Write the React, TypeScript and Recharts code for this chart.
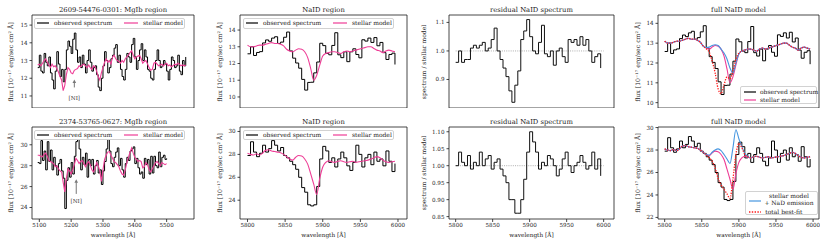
import type { ReactNode, CSSProperties } from "react"
import { LineChart, Line, XAxis, YAxis, ReferenceArea, ReferenceLine, ReferenceDot } from "recharts"

const FONT = "'DejaVu Serif', serif"
const INK = "#1a1a1a"
const PINK = "#ee3d96"
const BLUE = "#4696e0"
const RED = "#ff1a1a"

// ---- MgIb region (both rows share the wavelength grid, row 2 stops at 5500) ----
const MGB_WL = [
  5095, 5100, 5105, 5110, 5115, 5120, 5125, 5130, 5135, 5140,
  5145, 5150, 5155, 5160, 5165, 5170, 5175, 5180, 5185, 5190,
  5195, 5200, 5205, 5210, 5215, 5220, 5225, 5230, 5235, 5240,
  5245, 5250, 5255, 5260, 5265, 5270, 5275, 5280, 5285, 5290,
  5295, 5300, 5305, 5310, 5315, 5320, 5325, 5330, 5335, 5340,
  5345, 5350, 5355, 5360, 5365, 5370, 5375, 5380, 5385, 5390,
  5395, 5400, 5405, 5410, 5415, 5420, 5425, 5430, 5435, 5440,
  5445, 5450, 5455, 5460, 5465, 5470, 5475, 5480, 5485, 5490,
  5495, 5500, 5505, 5510, 5515, 5520, 5525, 5530, 5535, 5540,
  5545, 5550, 5555, 5560,
]
const MGB1_OBS = [
  12.6, 13.3, 12.4, 12.3, 13.4, 12.9, 12.7, 13.2, 12.3, 11.9,
  11.4, 12.4, 13.5, 12.8, 12.1, 12.5, 11.8, 12.5, 13.6, 14.1,
  13.8, 13.4, 14.2, 14.55, 13.6, 12.9, 13.2, 12.6, 13.3, 12.8,
  12.3, 13.0, 13.6, 12.9, 12.4, 12.6, 12.7, 12.2, 11.5, 11.3,
  12.0, 12.7, 13.5, 13.0, 12.3, 12.6, 13.1, 13.3, 13.7, 13.9,
  12.9, 13.3, 12.5, 12.1, 11.9, 12.5, 13.4, 13.2, 12.9, 13.9,
  14.25, 13.2, 12.5, 13.0, 13.6, 13.95, 13.0, 13.6, 13.2, 12.5,
  12.4, 12.0, 11.9, 12.5, 13.0, 13.6, 13.0, 12.6, 12.7, 13.0,
  12.8, 12.4, 11.9, 12.5, 13.2, 13.0, 12.6, 12.7, 13.3, 12.4,
  12.2, 13.0, 12.7, 13.2,
]
const MGB1_MODEL = [
  12.75, 12.8, 12.7, 12.85, 13.0, 13.1, 12.9, 12.75, 12.6, 12.8,
  12.65, 12.7, 12.55, 12.35, 12.1, 11.9, 11.3, 11.6, 12.2, 12.6,
  12.5, 12.3, 12.25, 12.45, 12.5, 12.55, 12.7, 12.65, 12.75, 12.8,
  12.7, 12.6, 12.75, 12.6, 12.5, 12.7, 12.65, 12.4, 12.1, 11.9,
  12.3, 12.6, 12.9, 13.1, 12.9, 13.0, 12.8, 13.2, 13.3, 13.1,
  13.0, 12.95, 12.85, 13.0, 12.9, 13.1, 13.2, 13.3, 13.45, 13.55,
  13.3, 13.1, 13.2, 13.25, 13.3, 13.1, 12.85, 12.95, 13.0, 12.8,
  12.6, 12.45, 12.5, 12.85, 12.9, 12.8, 12.7, 12.75, 12.8, 12.7,
  12.8, 12.85, 12.7, 12.75, 12.65, 12.7, 12.8, 12.75, 12.85, 12.8,
  12.7, 12.75, 12.7, 12.75,
]
const MGB2_OBS = [
  28.3, 28.2, 30.4, 28.5, 29.4, 27.6, 30.3, 28.4, 29.5, 27.6,
  28.8, 28.0, 27.1, 28.2, 28.6, 27.5, 26.8, 23.9, 26.6, 27.8,
  26.9, 28.3, 27.2, 28.9, 30.3, 30.5, 29.6, 27.6, 28.8, 28.1,
  29.2, 26.9, 28.6, 28.0, 28.6, 27.2, 28.0, 28.5, 27.3, 27.6,
  26.2, 27.5, 28.4, 29.6, 30.5, 29.4, 28.2, 27.9, 28.8, 29.3,
  29.7, 28.0, 28.7, 27.6, 26.9, 28.2, 28.8, 28.5, 29.4, 29.6,
  29.8, 28.2, 28.7, 27.8, 27.2, 27.4, 26.8, 28.7, 28.1, 28.6,
  27.2, 28.9, 27.3, 28.9, 28.0, 27.8, 29.3, 27.9, 28.8, 29.0,
  28.6, 28.7,
]
const MGB2_MODEL = [
  29.0, 29.0, 28.9, 28.85, 29.1, 29.2, 28.9, 28.5, 28.4, 28.3,
  28.2, 27.9, 28.0, 27.7, 27.5, 27.4, 26.4, 25.5, 26.8, 27.7,
  27.5, 27.2, 27.6, 28.1, 28.7, 28.5, 28.2, 28.4, 28.5, 28.2,
  27.9, 28.2, 28.4, 28.1, 27.6, 27.4, 27.7, 28.3, 28.0, 27.5,
  26.5, 27.6, 28.6, 29.0, 29.3, 29.35, 29.0, 28.7, 28.4, 28.3,
  28.1, 27.9, 27.5, 27.2, 27.1, 27.6, 28.3, 28.8, 29.3, 29.7,
  29.2, 28.8, 28.6, 28.4, 28.5, 28.4, 27.8, 27.9, 28.3, 28.1,
  27.6, 27.4, 27.7, 28.0, 28.3, 28.4, 28.2, 28.0, 28.3, 28.2,
  28.1, 28.2,
]

// ---- NaID region ----
const NAD_WL = [
  5800, 5804, 5808, 5812, 5816, 5820, 5824, 5828, 5832, 5836,
  5840, 5844, 5848, 5852, 5856, 5860, 5864, 5868, 5872, 5876,
  5880, 5884, 5888, 5892, 5896, 5900, 5904, 5908, 5912, 5916,
  5920, 5924, 5928, 5932, 5936, 5940, 5944, 5948, 5952, 5956,
  5960, 5964, 5968, 5972, 5976, 5980, 5984, 5988, 5992, 5996,
]
const NAD1_OBS = [
  12.58, 13.0, 12.48, 12.66, 12.71, 13.23, 13.41, 13.33, 13.52, 13.6,
  13.2, 13.28, 13.57, 13.88, 12.75, 12.32, 12.03, 11.72, 11.05, 10.41,
  10.87, 10.88, 11.44, 12.09, 13.21, 13.07, 12.6, 12.52, 13.08, 13.84,
  12.52, 12.35, 12.7, 12.11, 12.7, 12.88, 12.54, 12.34, 13.42, 13.34,
  13.52, 13.26, 13.55, 13.06, 13.26, 12.65, 12.24, 12.54, 12.62, 11.94,
]
const NAD1_MODEL = [
  13.1, 13.0, 13.0, 13.05, 13.1, 13.1, 13.15, 13.2, 13.25, 13.2,
  13.2, 13.15, 13.05, 12.85, 12.75, 12.7, 12.8, 12.88, 12.85, 12.7,
  12.35, 11.7, 11.0, 11.3, 11.9, 12.45, 12.6, 12.65, 12.7, 12.7,
  12.65, 12.6, 12.7, 12.75, 12.7, 12.75, 12.8, 12.85, 12.9, 12.95,
  13.0, 13.0, 12.9, 12.8, 12.75, 12.65, 12.75, 12.8, 12.75, 12.7,
]
const NAD1_EMIS = [
  13.1, 13.0, 13.0, 13.05, 13.1, 13.1, 13.15, 13.2, 13.25, 13.2,
  13.2, 13.15, 13.05, 12.85, 12.78, 12.8, 12.88, 12.92, 12.88, 12.7,
  12.5, 12.2, 11.75, 11.5, 12.0, 12.45, 12.6, 12.65, 12.7, 12.7,
  12.65, 12.6, 12.7, 12.75, 12.7, 12.75, 12.8, 12.85, 12.9, 12.95,
  13.0, 13.0, 12.9, 12.8, 12.75, 12.65, 12.75, 12.8, 12.75, 12.7,
]
const NAD1_FIT = [
  13.1, 13.0, 13.0, 13.05, 13.1, 13.1, 13.15, 13.2, 13.25, 13.2,
  13.2, 13.15, 13.05, 12.85, 12.72, 12.55, 12.1, 11.5, 10.7, 10.45,
  10.9, 11.3, 11.2, 11.6, 12.2, 12.5, 12.6, 12.65, 12.7, 12.7,
  12.65, 12.6, 12.7, 12.75, 12.7, 12.75, 12.8, 12.85, 12.9, 12.95,
  13.0, 13.0, 12.9, 12.8, 12.75, 12.65, 12.75, 12.8, 12.75, 12.7,
]
const NAD1_RES = [
  0.96, 1.0, 0.96, 0.97, 0.97, 1.01, 1.02, 1.01, 1.02, 1.03,
  1.0, 1.01, 1.04, 1.08, 1.0, 0.97, 0.94, 0.91, 0.86, 0.82,
  0.88, 0.93, 1.04, 1.07, 1.11, 1.05, 1.0, 0.99, 1.03, 1.09,
  0.99, 0.98, 1.0, 0.95, 1.0, 1.01, 0.98, 0.96, 1.04, 1.03,
  1.04, 1.02, 1.05, 1.02, 1.04, 1.0, 0.96, 0.98, 0.99, 0.94,
]
const NAD2_OBS = [
  27.9, 29.1, 28.2, 27.8, 28.1, 28.8, 28.2, 28.5, 29.2, 28.8,
  28.3, 28.6, 27.9, 27.7, 27.4, 27.1, 26.7, 26.0, 25.1, 24.7,
  23.6, 23.5, 23.6, 25.2, 27.6, 28.7, 28.3, 27.3, 27.7, 26.9,
  27.6, 28.2, 27.7, 27.0, 26.6, 27.3, 28.8, 28.0, 26.9, 27.7,
  28.0, 27.1, 28.2, 27.4, 27.6, 27.0, 28.3, 27.4, 26.5, 27.2,
]
const NAD2_MODEL = [
  28.1, 28.0, 27.95, 28.05, 27.95, 28.1, 28.35, 28.4, 28.3, 28.25,
  28.2, 28.15, 28.0, 27.8, 27.6, 27.5, 27.75, 27.9, 27.85, 27.6,
  27.15, 26.3, 25.4, 24.5, 25.9, 26.9, 27.3, 27.45, 27.35, 27.3,
  27.4, 27.45, 27.35, 27.3, 27.35, 27.4, 27.3, 27.35, 27.4, 27.45,
  27.5, 27.6, 27.7, 27.8, 27.7, 27.5, 27.35, 27.3, 27.35, 27.4,
]
const NAD2_EMIS = [
  28.1, 28.0, 27.95, 28.05, 27.95, 28.1, 28.35, 28.4, 28.3, 28.25,
  28.2, 28.15, 28.0, 27.8, 27.6, 27.55, 27.8, 28.0, 28.1, 27.95,
  27.6, 27.2, 26.8, 28.2, 29.8, 29.0, 28.3, 27.7, 27.45, 27.3,
  27.4, 27.45, 27.35, 27.3, 27.35, 27.4, 27.3, 27.35, 27.4, 27.45,
  27.5, 27.6, 27.7, 27.8, 27.7, 27.5, 27.35, 27.3, 27.35, 27.4,
]
const NAD2_FIT = [
  28.1, 28.0, 27.95, 28.05, 27.95, 28.1, 28.35, 28.4, 28.3, 28.25,
  28.2, 28.15, 28.0, 27.8, 27.55, 27.3, 27.0, 26.4, 25.5, 24.9,
  24.5, 24.1, 23.7, 25.4, 27.6, 28.6, 28.2, 27.6, 27.4, 27.3,
  27.4, 27.45, 27.35, 27.3, 27.35, 27.4, 27.3, 27.35, 27.4, 27.45,
  27.5, 27.6, 27.7, 27.8, 27.7, 27.5, 27.35, 27.3, 27.35, 27.4,
]
const NAD2_RES = [
  1.0, 1.04, 1.01, 1.0, 1.03, 0.99, 1.01, 1.0, 1.04, 1.0,
  1.02, 1.03, 0.99, 1.01, 1.02, 0.99, 0.97, 0.95, 0.9, 0.9,
  0.86, 0.86, 0.9, 0.96, 1.04, 1.1, 1.07, 1.04, 0.99, 1.01,
  1.0, 1.03, 1.02, 1.0, 0.97, 0.99, 1.02, 1.04, 1.0, 0.98,
  1.0, 1.01, 1.03, 1.01, 0.99, 1.0, 1.04, 0.99, 1.02, 0.97,
]

const TITLES = [
  ["2609-54476-0301: MgIb region", "NaID region", "residual NaID spectrum", "full NaID model"],
  ["2374-53765-0627: MgIb region", "NaID region", "residual NaID spectrum", "full NaID model"],
]
const FLUX_LABEL = "flux [10⁻¹⁷ erg/sec cm² Å]"
const RES_LABEL = "spectrum / stellar model"
const MGB_XTICKS = [5100, 5200, 5300, 5400, 5500]
const NAD_XTICKS = [5800, 5850, 5900, 5950, 6000]

const mgb1 = MGB_WL.map((wl, i) => ({ wl, obs: MGB1_OBS[i], model: MGB1_MODEL[i] }))
const mgb2 = MGB_WL.map((wl, i) => ({ wl, obs: MGB2_OBS[i], model: MGB2_MODEL[i] }))
const nad1 = NAD_WL.map((wl, i) => ({ wl, obs: NAD1_OBS[i], model: NAD1_MODEL[i], emis: NAD1_EMIS[i], fit: NAD1_FIT[i], res: NAD1_RES[i] }))
const nad2 = NAD_WL.map((wl, i) => ({ wl, obs: NAD2_OBS[i], model: NAD2_MODEL[i], emis: NAD2_EMIS[i], fit: NAD2_FIT[i], res: NAD2_RES[i] }))

// plot-area geometry
const COL_X = [32, 240, 449, 658]
const COL_W = [162, 167, 165, 161]
const ROW_Y = [15, 127]
const ROW_H = [93, 92]
const X_DOM: [number, number][] = [[5077, 5586], [5790, 6012], [5791, 6014], [5791, 6008]]

const tickFont = { fontSize: 5.6, fill: INK, fontFamily: FONT }

interface PanelProps {
  row: number
  col: number
  data: any[]
  yDomain: [number, number]
  yTicks: number[]
  xTicks?: number[]
  fmtY?: (v: number) => string
  children: ReactNode
}

function Panel({ row, col, data, yDomain, yTicks, xTicks, fmtY, children }: PanelProps) {
  const YW = 30, MT = 5, MR = 1
  const XH = xTicks ? 14 : 0
  const w = COL_W[col], h = ROW_H[row], xd = X_DOM[col]
  return (
    <div style={{ position: "absolute", left: COL_X[col] - YW, top: ROW_Y[row] - MT }}>
      <LineChart width={YW + w + MR} height={MT + h + XH} data={data} margin={{ top: MT, right: MR, left: 0, bottom: 0 }}>
        <XAxis dataKey="wl" type="number" domain={xd} allowDataOverflow hide={!xTicks} ticks={xTicks ?? []}
          interval={0} height={XH} axisLine={false} tickSize={3} tickMargin={1} tick={tickFont}
          tickLine={{ stroke: INK, strokeWidth: 0.8 }} />
        <YAxis type="number" domain={yDomain} allowDataOverflow ticks={yTicks} interval={0} width={YW}
          axisLine={false} tickSize={2.5} tickMargin={2} tick={tickFont} tickFormatter={fmtY}
          tickLine={{ stroke: INK, strokeWidth: 0.8 }} />
        {children}
        <ReferenceArea x1={xd[0]} x2={xd[1]} y1={yDomain[0]} y2={yDomain[1]} fill="none" stroke={INK} strokeWidth={0.8} />
      </LineChart>
    </div>
  )
}

function Txt({ x, y, size = 6, rotate, children, align = "center" }: { x: number; y: number; size?: number; rotate?: boolean; align?: "center" | "left"; children: ReactNode }) {
  const st: CSSProperties = {
    position: "absolute", left: x, top: y, fontSize: size, lineHeight: 1, whiteSpace: "nowrap", color: INK,
    transform: align === "left" ? "translate(0,-50%)" : `translate(-50%,-50%)${rotate ? " rotate(-90deg)" : ""}`,
  }
  return <div style={st}>{children}</div>
}

function Sample({ color, dashed, w = 12 }: { color: string; dashed?: boolean; w?: number }) {
  return (
    <svg width={w} height={4} style={{ display: "block" }}>
      <line x1={0} y1={2} x2={w} y2={2} stroke={color} strokeWidth={dashed ? 1.4 : 1.2} strokeDasharray={dashed ? "1.4 1.4" : undefined} />
    </svg>
  )
}

const boxStyle: CSSProperties = {
  position: "absolute", border: "0.8px solid #d2d2d2", borderRadius: 2, background: "rgba(255,255,255,0.85)", boxSizing: "border-box",
}

function TopLegend({ x, y }: { x: number; y: number }) {
  const item = (left: number): CSSProperties => ({ position: "absolute", left, top: "50%", transform: "translate(0,-50%)" })
  return (
    <div style={{ ...boxStyle, left: x, top: y, width: 151, height: 10.5, fontSize: 6 }}>
      <div style={item(2)}><Sample color="#000" /></div>
      <div style={{ ...item(19), lineHeight: 1, whiteSpace: "nowrap" }}>observed spectrum</div>
      <div style={item(89)}><Sample color={PINK} w={14} /></div>
      <div style={{ ...item(108), lineHeight: 1, whiteSpace: "nowrap" }}>stellar model</div>
    </div>
  )
}

const NiArrow = (p: any) => {
  const { x1, y1, x2, y2 } = p
  return (
    <g>
      <line x1={x1} y1={y1} x2={x2} y2={y2 + 3} stroke="#777" strokeWidth={1} />
      <path d={`M${x2 - 1.8},${y2 + 3.6}L${x2},${y2}L${x2 + 1.8},${y2 + 3.6}Z`} fill="#777" />
    </g>
  )
}
const NiText = (p: any) => (
  <text x={p.cx} y={p.cy} textAnchor="middle" dominantBaseline="central" fontSize={5.6} fontFamily={FONT} fill="#333">[NI]</text>
)

const lineProps = { dot: false, isAnimationActive: false, activeDot: false } as const

export default function App() {
  const f2 = (v: number) => v.toFixed(2)
  const f1 = (v: number) => v.toFixed(1)
  return (
    <div style={{ position: "absolute", left: 0, top: 0, width: 830, height: 249, background: "#fff", fontFamily: FONT, color: INK, overflow: "hidden" }}>
      {/* row 1 */}
      <Panel row={0} col={0} data={mgb1} yDomain={[10.32, 15.57]} yTicks={[11, 12, 13, 14, 15]}>
        <Line dataKey="obs" type="stepAfter" stroke="#000" strokeWidth={1} {...lineProps} />
        <Line dataKey="model" type="linear" stroke={PINK} strokeWidth={1.1} {...lineProps} />
        <ReferenceLine segment={[{ x: 5210, y: 11.48 }, { x: 5210, y: 11.93 }]} shape={NiArrow} />
        <ReferenceDot x={5210} y={10.87} r={0} shape={NiText} />
      </Panel>
      <Panel row={0} col={1} data={nad1} yDomain={[9.34, 14.9]} yTicks={[10, 11, 12, 13, 14]}>
        <Line dataKey="obs" type="stepAfter" stroke="#000" strokeWidth={1} {...lineProps} />
        <Line dataKey="model" type="monotone" stroke={PINK} strokeWidth={1.1} {...lineProps} />
      </Panel>
      <Panel row={0} col={2} data={nad1} yDomain={[0.8, 1.126]} yTicks={[0.9, 1.0, 1.1]} fmtY={f1}>
        <ReferenceLine segment={[{ x: 5800, y: 1 }, { x: 6000, y: 1 }]} stroke="#999" strokeDasharray="1 1.2" strokeWidth={0.8} />
        <Line dataKey="res" type="stepAfter" stroke="#111" strokeWidth={1} {...lineProps} />
      </Panel>
      <Panel row={0} col={3} data={nad1} yDomain={[9.73, 14.42]} yTicks={[10, 11, 12, 13, 14]}>
        <Line dataKey="obs" type="stepAfter" stroke="#000" strokeWidth={1} {...lineProps} />
        <Line dataKey="model" type="monotone" stroke={PINK} strokeWidth={1.1} {...lineProps} />
        <Line dataKey="emis" type="monotone" stroke={BLUE} strokeWidth={1.1} {...lineProps} />
        <Line dataKey="fit" type="monotone" stroke={RED} strokeWidth={1.3} strokeDasharray="1.3 1.3" {...lineProps} />
      </Panel>

      {/* row 2 */}
      <Panel row={1} col={0} data={mgb2} yDomain={[22.9, 31.7]} yTicks={[24, 26, 28, 30]} xTicks={MGB_XTICKS}>
        <Line dataKey="obs" type="stepAfter" stroke="#000" strokeWidth={1} {...lineProps} />
        <Line dataKey="model" type="linear" stroke={PINK} strokeWidth={1.1} {...lineProps} />
        <ReferenceLine segment={[{ x: 5216, y: 25.3 }, { x: 5216, y: 26.7 }]} shape={NiArrow} />
        <ReferenceDot x={5216} y={24.64} r={0} shape={NiText} />
      </Panel>
      <Panel row={1} col={1} data={nad2} yDomain={[22.36, 30.39]} yTicks={[24, 26, 28, 30]} xTicks={NAD_XTICKS}>
        <Line dataKey="obs" type="stepAfter" stroke="#000" strokeWidth={1} {...lineProps} />
        <Line dataKey="model" type="monotone" stroke={PINK} strokeWidth={1.1} {...lineProps} />
      </Panel>
      <Panel row={1} col={2} data={nad2} yDomain={[0.843, 1.114]} yTicks={[0.85, 0.9, 0.95, 1.0, 1.05, 1.1]} xTicks={NAD_XTICKS} fmtY={f2}>
        <ReferenceLine segment={[{ x: 5800, y: 1 }, { x: 6000, y: 1 }]} stroke="#999" strokeDasharray="1 1.2" strokeWidth={0.8} />
        <Line dataKey="res" type="stepAfter" stroke="#111" strokeWidth={1} {...lineProps} />
      </Panel>
      <Panel row={1} col={3} data={nad2} yDomain={[21.86, 30.05]} yTicks={[22, 24, 26, 28, 30]} xTicks={NAD_XTICKS}>
        <Line dataKey="obs" type="stepAfter" stroke="#000" strokeWidth={1} {...lineProps} />
        <Line dataKey="model" type="monotone" stroke={PINK} strokeWidth={1.1} {...lineProps} />
        <Line dataKey="emis" type="monotone" stroke={BLUE} strokeWidth={1.1} {...lineProps} />
        <Line dataKey="fit" type="monotone" stroke={RED} strokeWidth={1.3} strokeDasharray="1.3 1.3" {...lineProps} />
      </Panel>

      {/* titles */}
      {TITLES.map((row, r) => row.map((t, c) => (
        <Txt key={`t${r}${c}`} x={COL_X[c] + COL_W[c] / 2} y={ROW_Y[r] - 5.5} size={6.8}>{t}</Txt>
      )))}

      {/* y labels */}
      {[0, 1].map((r) => (
        <div key={`yl${r}`}>
          <Txt x={COL_X[0] - 21} y={ROW_Y[r] + ROW_H[r] / 2} size={6.2} rotate>{FLUX_LABEL}</Txt>
          <Txt x={COL_X[1] - 20} y={ROW_Y[r] + ROW_H[r] / 2} size={6.2} rotate>{FLUX_LABEL}</Txt>
          <Txt x={COL_X[2] - 25} y={ROW_Y[r] + ROW_H[r] / 2} size={6} rotate>{RES_LABEL}</Txt>
          <Txt x={COL_X[3] - 20} y={ROW_Y[r] + ROW_H[r] / 2} size={6.2} rotate>{FLUX_LABEL}</Txt>
        </div>
      ))}

      {/* x labels */}
      {[0, 1, 2, 3].map((c) => (
        <Txt key={`xl${c}`} x={COL_X[c] + COL_W[c] / 2} y={235.5} size={5.8}>wavelength [Å]</Txt>
      ))}

      {/* legends */}
      <TopLegend x={34} y={18} />
      <TopLegend x={243} y={18} />
      <TopLegend x={34} y={129.5} />
      <TopLegend x={243} y={129.5} />

      <div style={{ ...boxStyle, left: 740, top: 86, width: 77, height: 17.5, fontSize: 6 }}>
        <div style={{ position: "absolute", left: 3, top: 2.7 }}><Sample color="#000" /></div>
        <Txt x={19} y={4.7} size={6} align="left">observed spectrum</Txt>
        <div style={{ position: "absolute", left: 3, top: 11.3 }}><Sample color={PINK} /></div>
        <Txt x={19} y={13.3} size={6} align="left">stellar model</Txt>
      </div>
      <div style={{ ...boxStyle, left: 745, top: 190.5, width: 73, height: 24.5, fontSize: 6 }}>
        <div style={{ position: "absolute", left: 2.5, top: 7.5 }}><Sample color={BLUE} /></div>
        <Txt x={43} y={4.5} size={6}>stellar model</Txt>
        <Txt x={43} y={11.2} size={6}>+ NaD emission</Txt>
        <div style={{ position: "absolute", left: 2.5, top: 18.2 }}><Sample color={RED} dashed /></div>
        <Txt x={19.3} y={20.2} size={6} align="left">total best-fit</Txt>
      </div>
    </div>
  )
}
